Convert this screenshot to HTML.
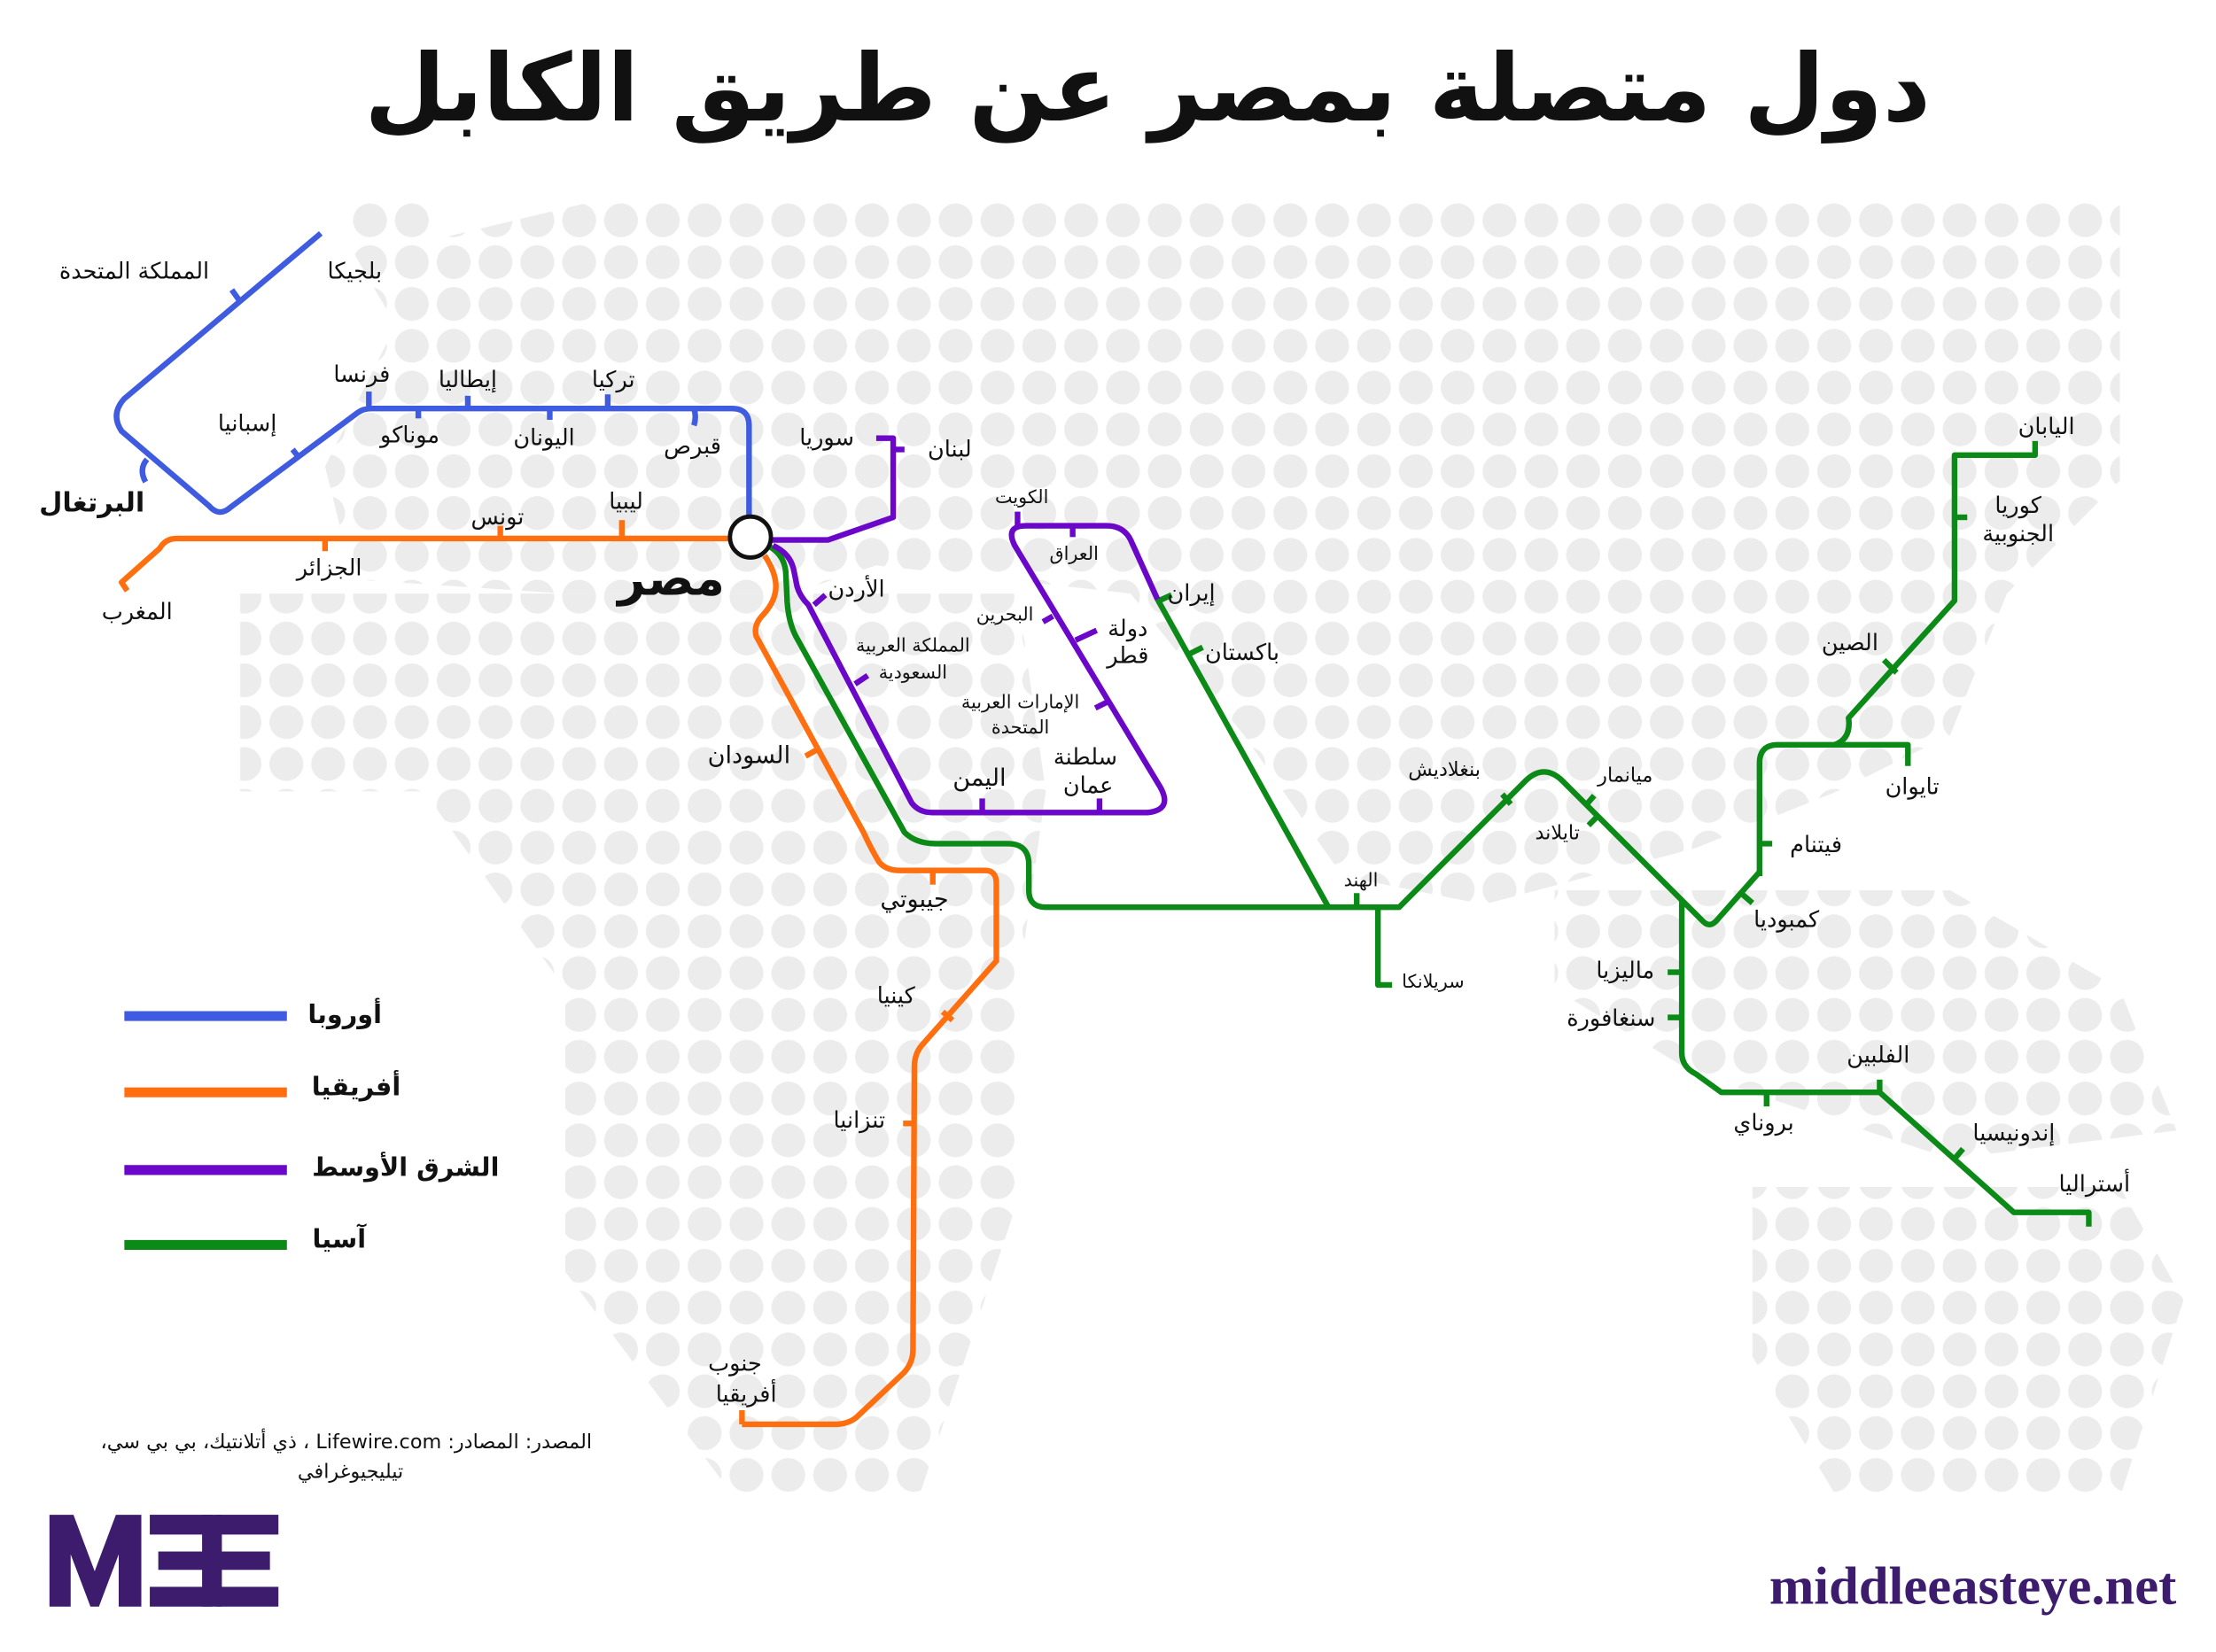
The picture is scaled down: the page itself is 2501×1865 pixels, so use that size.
<!DOCTYPE html>
<html><head><meta charset="utf-8"><style>
html,body{margin:0;padding:0;background:#fff;}
svg{display:block;}
text{font-family:"DejaVu Sans","Liberation Sans",sans-serif;fill:#111;direction:ltr;}
</style></head><body>
<svg width="2501" height="1865" viewBox="0 0 1568 1169" xmlns="http://www.w3.org/2000/svg">
<defs>
<pattern id="dots" x="247" y="141" width="29.6" height="29.6" patternUnits="userSpaceOnUse">
<circle cx="14.8" cy="14.8" r="12" fill="#ececec"/>
</pattern>
</defs>
<rect width="1568" height="1169" fill="#fff"/>
<g fill="url(#dots)">
<polygon points="245,140 305,140 305,170 430,140 1500,140 1500,340 1420,420 1380,520 1300,560 1200,600 1050,640 950,620 880,520 800,420 620,400 560,420 400,420 250,410 230,330 280,230 245,170"/>
<polygon points="170,420 720,420 740,560 720,700 720,850 650,1060 520,1060 400,900 400,700 300,560 170,560"/>
<polygon points="1100,630 1380,630 1500,700 1540,800 1380,820 1200,760 1100,700"/>
<polygon points="1240,840 1500,840 1545,920 1500,1060 1300,1060 1240,960"/>
</g>

<text x="812" y="85" text-anchor="middle" font-size="66" font-weight="bold">دول متصلة بمصر عن طريق الكابل</text>

<g fill="none" stroke-width="4" stroke-linecap="butt" stroke-linejoin="round">
<g stroke="#3f5ce0">
<path d="M227,165 L88,282 Q78,293 86,305 L148,358 Q155,366 163,359 L253,292 Q257,289 263,289 L518,289 Q530,289 530,301 L530,366"/>
<path d="M164,205 L169,212"/><path d="M207,318 L211,323"/>
<path d="M104,325 Q98,332 103,341"/>
<path d="M261,277 L261,289"/><path d="M296,289 L296,296"/><path d="M331,280 L331,289"/>
<path d="M389,289 L389,297"/><path d="M430,279 L430,289"/><path d="M491,289 Q493,295 491,301"/>
</g>
<g stroke="#ff6f0f">
<path d="M516,381 L125,381 Q117,381 113,388 L86,412 L90,418"/>
<path d="M230,381 L230,390"/><path d="M354,372 L354,381"/><path d="M440,368 L440,381"/>
<path d="M541,393 Q549,405 549,415 Q549,425 540,435 Q533,442 535,450 L611,589 Q616,600 622,610 Q627,616 637,616 L697,616 Q705,616 705,625 L705,680 L652,740 Q647,746 647,755 L646,955 Q646,965 639,972 L606,1003 Q600,1008 590,1008 L525,1008"/>
<path d="M525,998 L525,1008"/><path d="M660,616 L660,626"/><path d="M667,716 L674,722"/>
<path d="M647,795 L639,795"/><path d="M579,530 L570,535"/>
</g>
<g stroke="#0c8a17">
<path d="M545,387 Q555,393 556,405 L557,426 Q558,440 563,450 L640,589 Q648,597 662,597 L713,597 Q728,597 728,612 L728,630 Q728,642 740,642 L990,642 L1080,552 Q1093,540 1106,553 L1205,652 Q1210,657 1215,651 L1245,617"/>
<path d="M1245,620 L1245,540 Q1245,527 1258,527 L1350,527 L1350,542"/>
<path d="M1298,527 Q1310,523 1308,508 L1383,425 L1383,322 L1440,322 L1440,312"/>
<path d="M819,424 L940,642"/>
<path d="M975,642 L975,697 L985,697"/>
<path d="M960,632 L960,642"/>
<path d="M1190,636 L1190,745 Q1190,755 1200,760 L1218,773 L1330,773 L1425,858 L1478,858 L1478,868"/>
<path d="M818,426 L829,421"/><path d="M841,463 L851,458"/>
<path d="M1063,562 L1069,569"/><path d="M1122,570 L1128,563"/><path d="M1130,578 L1124,584"/>
<path d="M1233,633 L1240,639"/><path d="M1245,597 L1254,597"/>
<path d="M1383,366 L1392,366"/><path d="M1333,467 L1342,476"/>
<path d="M1190,688 L1180,688"/><path d="M1190,720 L1180,720"/>
<path d="M1250,773 L1250,783"/><path d="M1330,764 L1330,773"/><path d="M1383,820 L1389,813"/>
</g>
<g stroke="#6a07c8">
<path d="M545,382 L586,382 L632,366 L632,310 L620,310"/><path d="M632,318 L640,318"/>
<path d="M547,386 Q560,392 562,405 L564,415 Q566,422 572,428 L645,568 Q650,575 660,575 L812,575 Q830,573 821,557 L718,386 Q711,372 726,372 L783,372 Q795,372 800,382 L819,424"/>
<path d="M576,428 L584,421"/><path d="M605,484 L614,478"/>
<path d="M745,436 L738,440"/><path d="M761,453 L776,446"/><path d="M783,497 L775,501"/>
<path d="M695,575 L695,565"/><path d="M778,575 L778,565"/>
<path d="M720,372 L720,362"/><path d="M759,372 L759,380"/>
</g>
</g>
<circle cx="531" cy="380" r="14.5" fill="#fff" stroke="#111" stroke-width="3"/>

<g font-size="16" text-anchor="middle">
<text x="95" y="197">المملكة المتحدة</text>
<text x="251" y="197">بلجيكا</text>
<text x="256" y="270">فرنسا</text>
<text x="331" y="274">إيطاليا</text>
<text x="434" y="274">تركيا</text>
<text x="175" y="305">إسبانيا</text>
<text x="290" y="313">موناكو</text>
<text x="385" y="315">اليونان</text>
<text x="490" y="321">قبرص</text>
<text x="65" y="362" font-size="19" font-weight="bold">البرتغال</text>
<text x="585" y="315">سوريا</text>
<text x="672" y="323">لبنان</text>
<text x="352" y="371">تونس</text>
<text x="443" y="360">ليبيا</text>
<text x="233" y="407">الجزائر</text>
<text x="97" y="438">المغرب</text>
<text x="475" y="421" font-size="34" font-weight="bold">مصر</text>
<text x="723" y="356" font-size="13">الكويت</text>
<text x="760" y="396" font-size="13">العراق</text>
<text x="843" y="425">إيران</text>
<text x="606" y="422">الأردن</text>
<text x="711" y="439" font-size="13">البحرين</text>
<text x="798" y="450">دولة</text>
<text x="798" y="469">قطر</text>
<text x="646" y="461" font-size="13">المملكة العربية</text>
<text x="646" y="480" font-size="13">السعودية</text>
<text x="879" y="467">باكستان</text>
<text x="722" y="501" font-size="13">الإمارات العربية</text>
<text x="722" y="519" font-size="13">المتحدة</text>
<text x="768" y="541">سلطنة</text>
<text x="770" y="561">عمان</text>
<text x="693" y="556" font-size="17">اليمن</text>
<text x="530" y="540" font-size="17">السودان</text>
<text x="1022" y="549" font-size="14">بنغلاديش</text>
<text x="1150" y="553" font-size="14">ميانمار</text>
<text x="1102" y="594" font-size="14">تايلاند</text>
<text x="963" y="627" font-size="13">الهند</text>
<text x="1014" y="699" font-size="13">سريلانكا</text>
<text x="647" y="642" font-size="17">جيبوتي</text>
<text x="634" y="710">كينيا</text>
<text x="608" y="798">تنزانيا</text>
<text x="520" y="970">جنوب</text>
<text x="528" y="992">أفريقيا</text>
<text x="1448" y="307">اليابان</text>
<text x="1428" y="363">كوريا</text>
<text x="1428" y="383">الجنوبية</text>
<text x="1309" y="460">الصين</text>
<text x="1353" y="562">تايوان</text>
<text x="1285" y="603">فيتنام</text>
<text x="1264" y="656">كمبوديا</text>
<text x="1150" y="692">ماليزيا</text>
<text x="1140" y="726">سنغافورة</text>
<text x="1329" y="752">الفلبين</text>
<text x="1248" y="800">بروناي</text>
<text x="1425" y="807">إندونيسيا</text>
<text x="1482" y="843">أستراليا</text>
</g>

<g stroke-width="7">
<line x1="88" y1="719" x2="203" y2="719" stroke="#3f5ce0"/>
<line x1="88" y1="773" x2="203" y2="773" stroke="#ff6f0f"/>
<line x1="88" y1="828" x2="203" y2="828" stroke="#6a07c8"/>
<line x1="88" y1="881" x2="203" y2="881" stroke="#0c8a17"/>
</g>
<g font-size="18" font-weight="bold" text-anchor="middle">
<text x="244" y="724">أوروبا</text>
<text x="252" y="775">أفريقيا</text>
<text x="287" y="832">الشرق الأوسط</text>
<text x="240" y="883">آسيا</text>
</g>

<g font-size="14" text-anchor="middle">
<text x="245" y="1025" direction="rtl" style="direction:rtl">المصدر: المصادر: Lifewire.com ، ذي أتلانتيك، بي بي سي،</text>
<text x="248" y="1046">تيليجيوغرافي</text>
</g>

<g fill="#3d1c6e">
<polygon points="35,1072 52,1072 67,1112 82,1072 100,1072 100,1137 84,1137 84,1100 70,1137 64,1137 50,1100 50,1137 35,1137"/>
<rect x="106" y="1072" width="44" height="14"/>
<rect x="112" y="1098" width="38" height="13"/>
<rect x="106" y="1123" width="44" height="14"/>
<rect x="143" y="1072" width="14" height="65"/>
<rect x="153" y="1072" width="44" height="14"/>
<rect x="153" y="1098" width="38" height="13"/>
<rect x="153" y="1123" width="44" height="14"/>
</g>
<text x="1540" y="1135" text-anchor="end" font-size="38" font-weight="bold" style="font-family:'Liberation Serif',serif;fill:#3d1c6e">middleeasteye.net</text>
</svg>
</body></html>
